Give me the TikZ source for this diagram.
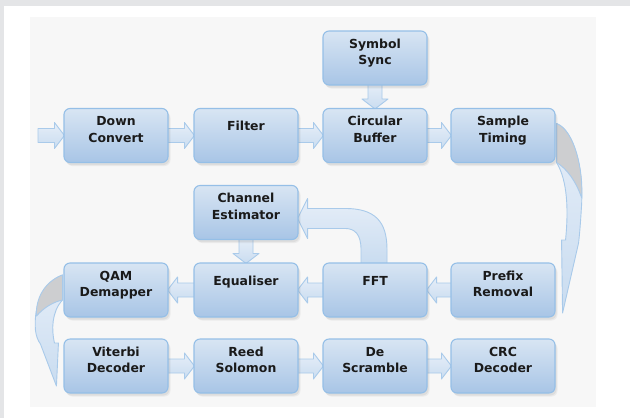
\documentclass[tikz,border=0pt]{standalone}
\usepackage{fontspec}
\setmainfont{DejaVu Sans}
\usetikzlibrary{calc}
\pgfdeclarelayer{back}
\pgfdeclarelayer{bg}
\pgfsetlayers{back,bg,main}
\definecolor{frame}{HTML}{E4E5E7}
\definecolor{panel}{HTML}{F7F7F7}
\definecolor{boxtop}{HTML}{D8E5F3}
\definecolor{boxbot}{HTML}{A8C5E6}
\definecolor{boxline}{HTML}{95BFE7}
\definecolor{arrtop}{HTML}{E6EEF8}
\definecolor{arrbot}{HTML}{C9DCF0}
\definecolor{arrline}{HTML}{A9CAEA}
\definecolor{backgray}{HTML}{CDCED0}
\definecolor{txt}{HTML}{1A1A1A}
\newcommand\boxtext[2][5bp]{\raisebox{#1}[\height][\depth]{\begin{tabular}{@{}c@{}}#2\end{tabular}}}
\newcommand\arrR[2]{\draw[arr] ($(#1.east)+(-2,-7)$) -- ($(#2.west)+(-9,-7)$) -- ($(#2.west)+(-9,-13)$) -- ($(#2.west)+(1,0)$) -- ($(#2.west)+(-9,13)$) -- ($(#2.west)+(-9,7)$) -- ($(#1.east)+(-2,7)$) -- cycle;}
\newcommand\arrL[2]{\draw[arr] ($(#1.west)+(2,-7)$) -- ($(#2.east)+(9,-7)$) -- ($(#2.east)+(9,-13)$) -- ($(#2.east)+(-1,0)$) -- ($(#2.east)+(9,13)$) -- ($(#2.east)+(9,7)$) -- ($(#1.west)+(2,7)$) -- cycle;}
\newcommand\arrD[2]{\draw[arr] ($(#1.south)+(-7,-2)$) -- ($(#2.north)+(-7,-9)$) -- ($(#2.north)+(-13,-9)$) -- ($(#2.north)+(0,1)$) -- ($(#2.north)+(13,-9)$) -- ($(#2.north)+(7,-9)$) -- ($(#1.south)+(7,-2)$) -- cycle;}
\begin{document}
\begin{tikzpicture}[x=1bp,y=-1bp,
  blk/.style={rounded corners=6bp, minimum width=104bp, minimum height=54bp, inner sep=0pt,
    draw=boxline, line width=1.1bp, top color=boxtop, bottom color=boxbot,
    font=\fontsize{12.5}{16.5}\selectfont\bfseries, text=txt,
    preaction={fill=black!60, opacity=0.10, transform canvas={xshift=1.5bp,yshift=-2.5bp}},
    preaction={fill=black!60, opacity=0.08, transform canvas={xshift=2.5bp,yshift=-3.5bp}}},
  arr/.style={top color=arrtop, bottom color=arrbot, draw=arrline, line width=0.9bp, line join=round},
  backface/.style={fill=backgray, draw=arrline, line width=0.9bp, line join=round}]
\useasboundingbox (0,0) rectangle (630,418);
\begin{pgfonlayer}{back}
  \fill[frame] (0,0) rectangle (630,418);
  \fill[white] (4,6) rectangle (630,418);
  \fill[panel] (30,17) rectangle (596,407);
\end{pgfonlayer}

\node[blk] (ss) at (375,58) {\boxtext{Symbol\\Sync}};
\node[blk] (dc) at (116,135.5) {\boxtext{Down\\Convert}};
\node[blk] (fi) at (246,135.5) {\boxtext[8bp]{Filter}};
\node[blk] (cb) at (375,135.5) {\boxtext{Circular\\Buffer}};
\node[blk] (st) at (503,135.5) {\boxtext{Sample\\Timing}};
\node[blk] (ce) at (246,212.5) {\boxtext{Channel\\Estimator}};
\node[blk] (qam) at (116,290) {\boxtext{QAM\\Demapper}};
\node[blk] (eq) at (246,290) {\boxtext[8bp]{Equaliser}};
\node[blk] (fft) at (375,290) {\boxtext[8bp]{FFT}};
\node[blk] (pr) at (503,290) {\boxtext{Prefix\\Removal}};
\node[blk] (vit) at (116,366) {\boxtext{Viterbi\\Decoder}};
\node[blk] (rs) at (246,366) {\boxtext{Reed\\Solomon}};
\node[blk] (ds) at (375,366) {\boxtext{De\\Scramble}};
\node[blk] (crc) at (503,366) {\boxtext{CRC\\Decoder}};
\coordinate (in) at (38,135.5);

\begin{pgfonlayer}{bg}
  % input arrow
  \draw[arr] ($(in)+(0,-7)$) -- ($(dc.west)+(-9,-7)$) -- ($(dc.west)+(-9,-13)$) -- ($(dc.west)+(1,0)$) -- ($(dc.west)+(-9,13)$) -- ($(dc.west)+(-9,7)$) -- ($(in)+(0,7)$) -- cycle;
  \arrR{dc}{fi}
  \arrR{fi}{cb}
  \arrR{cb}{st}
  \arrD{ss}{cb}
  \arrD{ce}{eq}
  \arrL{pr}{fft}
  \arrL{fft}{eq}
  \arrL{eq}{qam}
  \arrR{vit}{rs}
  \arrR{rs}{ds}
  \arrR{ds}{crc}
  % FFT -> Channel Estimator (bent)
  \draw[arr] ($(fft.north)+(12,1)$) -- ($(fft.north)+(12,-13)$)
     .. controls ($(fft.north)+(12,-41)$) and ($(fft.north)+(0,-54)$) .. ($(fft.north)+(-30,-54)$)
     -- ($(ce.east)+(9,-4)$) -- ($(ce.east)+(9,-14)$) -- ($(ce.east)+(-1,6)$) -- ($(ce.east)+(9,26)$) -- ($(ce.east)+(9,16)$)
     -- ($(fft.north)+(-30,-34)$)
     .. controls ($(fft.north)+(-20,-34)$) and ($(fft.north)+(-14,-28)$) .. ($(fft.north)+(-14,-13)$)
     -- ($(fft.north)+(-14,1)$) -- cycle;
  % Sample Timing -> Prefix Removal (curved, right side)
  \draw[arr] ($(st.east)+(1,-12)$)
     .. controls ($(st.east)+(19,-5)$) and ($(st.east)+(28,35)$) .. ($(st.east)+(26,70)$)
     .. controls ($(pr.east)+(25,-68)$) and ($(pr.east)+(24,-55)$) .. ($(pr.east)+(23,-47)$)
     -- ($(pr.east)+(7,23)$) -- ($(pr.east)+(6,-50)$) -- ($(pr.east)+(10,-50)$)
     .. controls ($(pr.east)+(13,-80)$) and ($(st.east)+(12,45)$) .. ($(st.east)+(1,27)$) -- cycle;
  \draw[backface] ($(st.east)+(1,-12)$)
     .. controls ($(st.east)+(19,-5)$) and ($(st.east)+(28,35)$) .. ($(st.east)+(26,62)$)
     .. controls ($(st.east)+(20,45)$) and ($(st.east)+(11,33)$) .. ($(st.east)+(1,27)$) -- cycle;
  % QAM Demapper -> Viterbi Decoder (curved, left side)
  \draw[arr] ($(qam.west)+(-1,-15)$)
     .. controls ($(qam.west)+(-20,-8)$) and ($(qam.west)+(-30,15)$) .. ($(qam.west)+(-28,40)$)
     .. controls ($(vit.west)+(-27,-28)$) and ($(vit.west)+(-25,-25)$) .. ($(vit.west)+(-23,-22)$)
     -- ($(vit.west)+(-7,20)$) -- ($(vit.west)+(-5,-23)$) -- ($(vit.west)+(-9,-23)$)
     .. controls ($(vit.west)+(-12,-36)$) and ($(qam.west)+(-12,22)$) .. ($(qam.west)+(-1,10)$) -- cycle;
  \draw[backface] ($(qam.west)+(-1,-15)$)
     .. controls ($(qam.west)+(-20,-8)$) and ($(qam.west)+(-28,10)$) .. ($(qam.west)+(-27,26)$)
     .. controls ($(qam.west)+(-19,17)$) and ($(qam.west)+(-10,12)$) .. ($(qam.west)+(-1,10)$) -- cycle;
\end{pgfonlayer}
\end{tikzpicture}
\end{document}
